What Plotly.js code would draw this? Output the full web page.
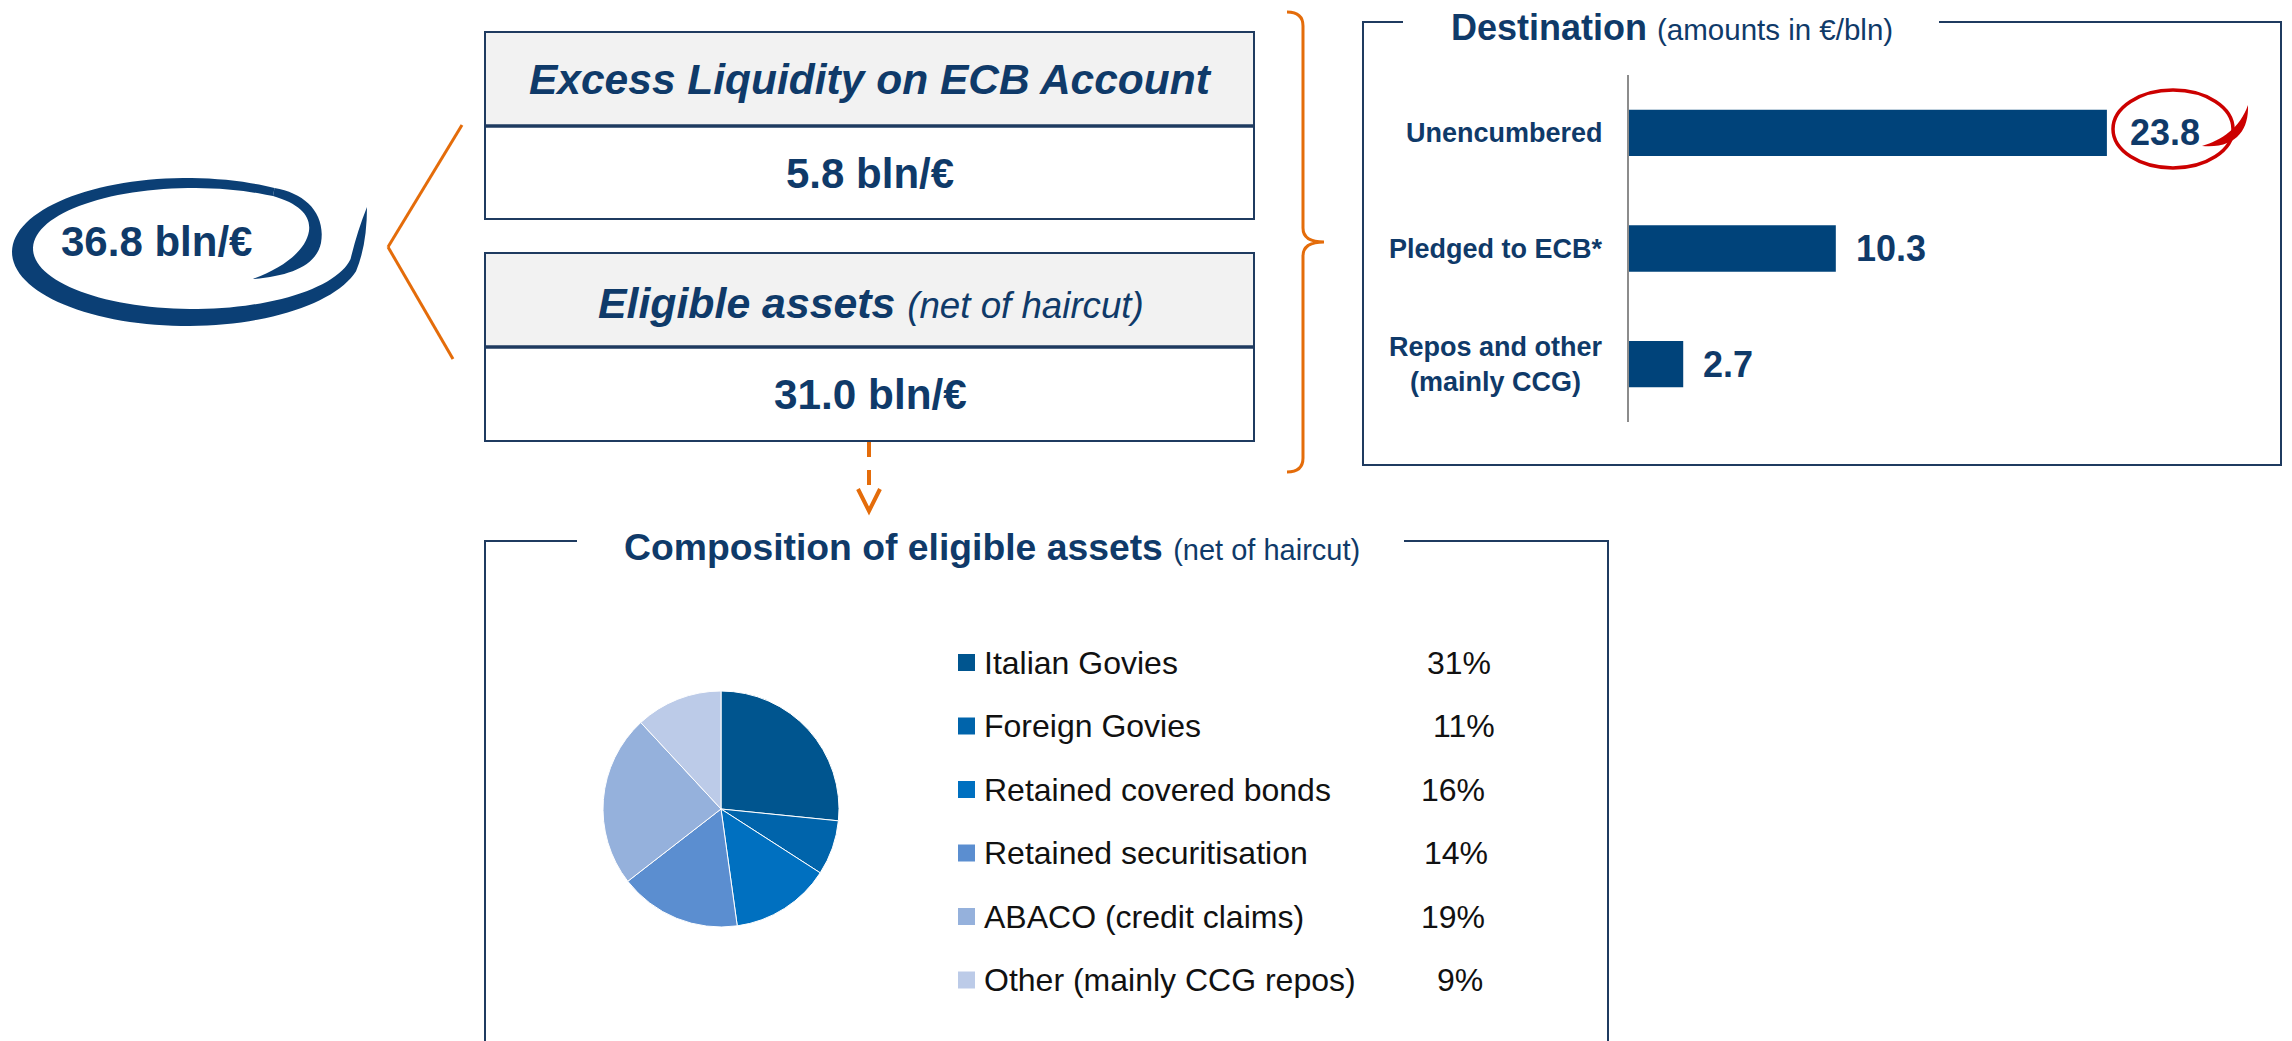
<!DOCTYPE html>
<html>
<head>
<meta charset="utf-8">
<script src="https://cdn.plot.ly/plotly-3.0.1.min.js"></script>
<style>
html,body{margin:0;padding:0;background:#fff;overflow:hidden}
#chart{width:2292px;height:1041px}
</style>
</head>
<body>
<div id="chart"></div>
<script>
// ---------------- DATA ----------------
const excessTitle = 'Excess Liquidity on ECB Account';
const excessValue = 5.8;            // bln/€
const eligibleTitle = 'Eligible assets';
const eligibleNote = '(net of haircut)';
const eligibleValue = 31.0;         // bln/€
const unitLabel = 'bln/€';

const destTitle = 'Destination';
const destNote = '(amounts in €/bln)';
const destCategories = ['Unencumbered', 'Pledged to ECB*', 'Repos and other<br>(mainly CCG)'];
const destValues = [23.8, 10.3, 2.7];

const compTitle = 'Composition of eligible assets';
const compNote = '(net of haircut)';
const compLabels = ['Italian Govies', 'Foreign Govies', 'Retained covered bonds',
                    'Retained securitisation', 'ABACO (credit claims)', 'Other (mainly CCG repos)'];
const compShares = [26.6, 7.5, 13.7, 16.7, 23.6, 11.9];   // slice sizes as drawn in the pie
const compPctLabels = ['31%', '11%', '16%', '14%', '19%', '9%'];

// ---------------- STYLE / LAYOUT HELPERS ----------------
const W = 2292, H = 1041;
const FONT = 'Liberation Sans, Arial, sans-serif';
const NAVY = '#0f3a69';
const LOGO = '#0b3f75';
const BORDER = '#1f3b60';
const ORANGE = '#e46c0a';
const BAR = '#00437a';
const compColors = ['#00558f', '#0064ab', '#0070c0', '#5b8ed0', '#95b1dc', '#bccbe8'];

const X = p => p / W;
const Y = p => 1 - p / H;
const pp = d => d.replace(/(-?[\d.]+)[ ,]+(-?[\d.]+)/g,
  (m, a, b) => X(+a).toFixed(6) + ',' + Y(+b).toFixed(6));

const shapes = [];
const annotations = [];

function rect(x0, y0, x1, y1, fill, lc, lw) {
  shapes.push({type: 'rect', xref: 'paper', yref: 'paper',
    x0: X(x0), x1: X(x1), y0: Y(y1), y1: Y(y0),
    fillcolor: fill, line: {color: lc, width: lw}});
}
function seg(x0, y0, x1, y1, color, width, dash) {
  shapes.push({type: 'line', xref: 'paper', yref: 'paper',
    x0: X(x0), x1: X(x1), y0: Y(y0), y1: Y(y1),
    line: {color: color, width: width, dash: dash || 'solid'}});
}
function path(d, fill, lc, lw) {
  shapes.push({type: 'path', xref: 'paper', yref: 'paper', path: pp(d),
    fillcolor: fill || 'rgba(0,0,0,0)', line: {color: lc || 'rgba(0,0,0,0)', width: lw || 0}});
}
function text(str, x, y, size, opts) {
  annotations.push(Object.assign({
    xref: 'paper', yref: 'paper', x: X(x), y: Y(y), text: str, showarrow: false,
    xanchor: 'center', yanchor: 'middle',
    font: {family: FONT, size: size, color: NAVY}
  }, opts || {}));
}
function ell(cx, cy, rx, ry, t0, t1, n) {
  const a = [];
  for (let i = 0; i <= n; i++) {
    const t = (t0 + (t1 - t0) * i / n) * Math.PI / 180;
    a.push((cx + rx * Math.cos(t)).toFixed(2) + ' ' + (cy + ry * Math.sin(t)).toFixed(2));
  }
  return a;
}

// ---------------- LOGO (total) ----------------
const outer = ell(187, 252, 175, 74, -60, -345, 100);
const inner = ell(193, 248.5, 160, 60.5, -350, -60, 100);
path('M ' + outer.join(' L ') + ' Q 367 245 367 207 Q 357 232 ' + inner[0] +
     ' L ' + inner.slice(1).join(' L ') + ' Z', LOGO);
// inner hook of the swirl
path('M ' + outer[0] + ' C 305 193 326 213 321 243 C 316 266 290 276 253 279 ' +
     'C 285 267 306 250 309 231 C 311 216 300 204 ' + inner[inner.length - 1] + ' Z', LOGO);
text('<b>' + (excessValue + eligibleValue).toFixed(1) + ' ' + unitLabel + '</b>', 156, 242, 42);

// orange connector
seg(388, 247, 462, 125, ORANGE, 3);
seg(388, 247, 453, 359, ORANGE, 3);

// ---------------- BOXES ----------------
rect(485, 32, 1254, 126, '#f2f2f2', BORDER, 2);
rect(485, 126, 1254, 219, '#ffffff', BORDER, 2);
seg(485, 126, 1254, 126, BORDER, 3.5);
rect(485, 253, 1254, 347, '#f2f2f2', BORDER, 2);
rect(485, 347, 1254, 441, '#ffffff', BORDER, 2);
seg(485, 347, 1254, 347, BORDER, 3.5);

text('<b><i>' + excessTitle + '</i></b>', 870, 80, 42.5);
text('<b>' + excessValue.toFixed(1) + ' ' + unitLabel + '</b>', 870, 173, 42);
text('<b><i>' + eligibleTitle + '</i></b> <i><span style="font-size:36.7px">' + eligibleNote + '</span></i>', 871, 303, 42.8);
text('<b>' + eligibleValue.toFixed(1) + ' ' + unitLabel + '</b>', 870, 394, 42.3);

// dashed arrow down
seg(869, 442, 869, 487, ORANGE, 4, '15px,13px');
path('M 858 489 L 869 511 L 880 489', null, ORANGE, 4);

// brace
path('M 1287 12 Q 1303 12 1303 26 L 1303 228 Q 1303 242 1324 242 Q 1303 242 1303 256 L 1303 458 Q 1303 472 1287 472', null, ORANGE, 3);

// ---------------- DESTINATION PANEL ----------------
path('M 1403 22 L 1363 22 L 1363 465 L 2281 465 L 2281 22 L 1939 22', null, BORDER, 2);
text('<b>' + destTitle + '</b> <span style="font-size:29.5px">' + destNote + '</span>', 1449, 28, 36, {xanchor: 'left'});

destCategories.forEach((c, i) => {
  annotations.push({xref: 'paper', yref: 'y', x: X(1605), y: c, text: '<b>' + c + '</b>',
    showarrow: false, xanchor: 'right', yanchor: 'middle', align: 'center',
    font: {family: FONT, size: 27, color: NAVY}});
  annotations.push({xref: 'x', yref: 'y', x: destValues[i], y: c,
    text: '<b>' + destValues[i].toFixed(1) + '</b>',
    showarrow: false, xanchor: 'left', yanchor: 'middle', xshift: i === 0 ? 21 : 18,
    font: {family: FONT, size: 36, color: NAVY}});
});

// red highlight circle
shapes.push({type: 'circle', xref: 'paper', yref: 'paper',
  x0: X(2113), x1: X(2233), y0: Y(168), y1: Y(90),
  line: {color: '#cc0000', width: 3.5}, fillcolor: 'rgba(0,0,0,0)'});
path('M 2202 146 C 2222 140 2240 128 2248 105 C 2249 130 2236 149 2202 146 Z', '#cc0000');

// ---------------- COMPOSITION PANEL ----------------
path('M 577 541 L 485 541 L 485 1050', null, BORDER, 2);
path('M 1404 541 L 1608 541 L 1608 1050', null, BORDER, 2);
text('<b>' + compTitle + '</b> <span style="font-size:29px">' + compNote + '</span>', 622, 547, 37.3, {xanchor: 'left'});

const pctLeft = [1425, 1431, 1419, 1422, 1419, 1435];
compLabels.forEach((lab, i) => {
  const yc = 662.5 + i * 63.5;
  rect(958, yc - 8.5, 975, yc + 8.5, compColors[i], compColors[i], 0);
  text(lab, 982, yc, 32, {xanchor: 'left', font: {family: FONT, size: 32, color: '#111111'}});
  text(compPctLabels[i], pctLeft[i], yc, 32, {xanchor: 'left', font: {family: FONT, size: 32, color: '#111111'}});
});

// ---------------- TRACES ----------------
const traces = [
  {type: 'bar', orientation: 'h', y: destCategories, x: destValues,
   xaxis: 'x', yaxis: 'y', width: 0.4, marker: {color: BAR}, hoverinfo: 'skip', showlegend: false},
  {type: 'pie', labels: compLabels, values: compShares, sort: false, direction: 'clockwise',
   rotation: 0, textinfo: 'none', hoverinfo: 'skip', showlegend: false,
   marker: {colors: compColors, line: {color: '#ffffff', width: 1}},
   domain: {x: [X(603), X(839)], y: [Y(927), Y(691)]}}
];

const layout = {
  width: W, height: H,
  margin: {l: 0, r: 0, t: 0, b: 0, pad: 0},
  paper_bgcolor: '#ffffff', plot_bgcolor: 'rgba(0,0,0,0)',
  showlegend: false,
  font: {family: FONT},
  xaxis: {domain: [X(1629), X(2281)], range: [0, 652 / 20.08], visible: false, fixedrange: true},
  yaxis: {domain: [Y(422), Y(75)], type: 'category', autorange: 'reversed',
          showline: true, linecolor: '#8c8c8c', linewidth: 2, showticklabels: false,
          ticks: '', showgrid: false, zeroline: false, fixedrange: true},
  shapes: shapes,
  annotations: annotations
};

Plotly.newPlot('chart', traces, layout, {displayModeBar: false, staticPlot: true});
</script>
</body>
</html>
